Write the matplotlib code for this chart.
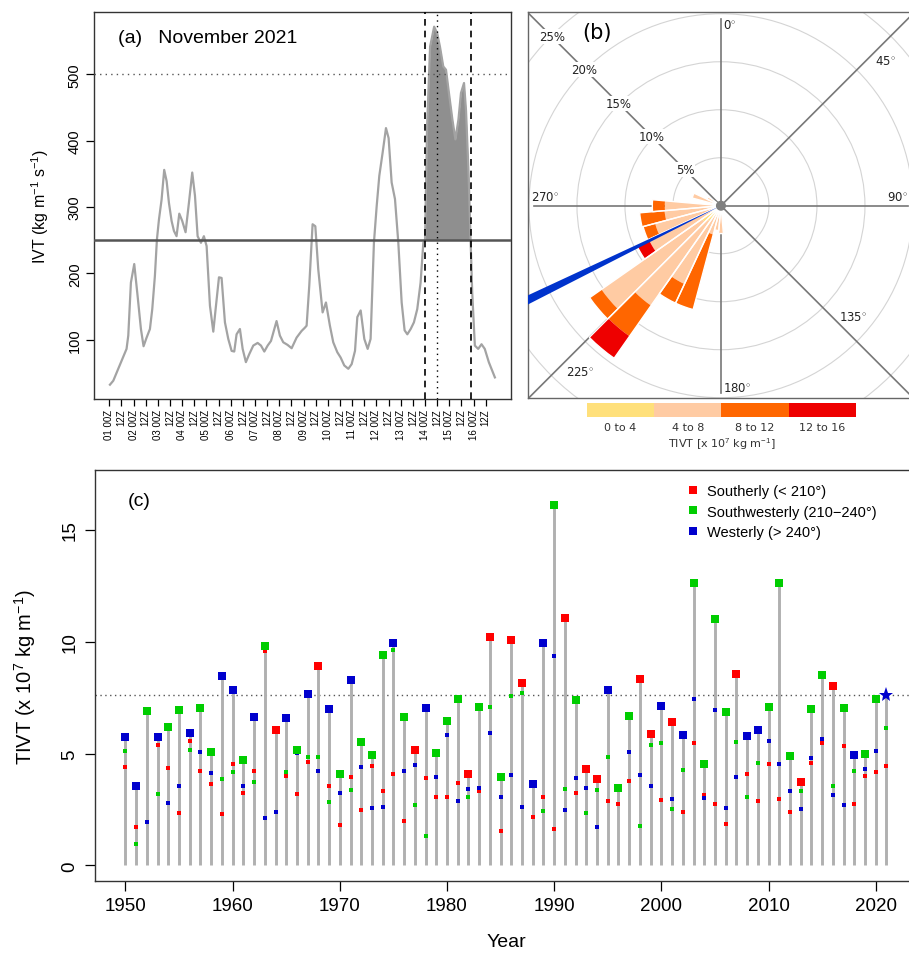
import numpy as np
import matplotlib
matplotlib.use("Agg")
import matplotlib.pyplot as plt
from matplotlib.patches import Wedge, Circle
from matplotlib.lines import Line2D

plt.rcParams['font.family'] = ['Liberation Sans', 'DejaVu Sans']
plt.rcParams['mathtext.fontset'] = 'custom'
plt.rcParams['mathtext.rm'] = 'Liberation Sans'
plt.rcParams['mathtext.it'] = 'Liberation Sans:italic'
plt.rcParams['mathtext.bf'] = 'Liberation Sans:bold'

# ---------------- (a) IVT, November 2021 (hours after 01 00Z)
ivt_hours = [0.7, 4, 8.9, 17.1, 18.8, 21.4, 24.7, 28, 31.3, 33.9, 36.9, 40.2, 42.5,
             45.1, 47.1, 49.1, 51.7, 54.3, 56.7, 59, 61.6, 63.9, 66.5, 69.2, 72.1,
             75.4, 78.7, 82, 84.7, 87.3, 90.6, 93.5, 96.2, 99.5, 102.8, 105.1, 108.4,
             111, 114.3, 117.6, 120.9, 123.5, 125.8, 129.1, 131.8, 135, 138.3, 142.3,
             146.6, 149.9, 153.2, 156.5, 159.8, 165.3, 168.6, 171.9, 176.2, 180.2,
             185.1, 190, 193.3, 195, 197.6, 200.9, 203.6, 206.5, 210.8, 214.1, 218,
             221.3, 225.3, 228.6, 232.2, 236.2, 239.5, 242.8, 245.1, 248.4, 252,
             255.3, 258.2, 261.5, 264.2, 266.8, 270.1, 273.4, 276, 279, 282.3, 285.6,
             288.9, 291.8, 294.5, 297.8, 301, 304.3, 307.6, 310.3, 312, 314, 317, 321,
             324, 326.7, 330, 332.7, 335.6, 339, 342, 345, 347.5, 350.5, 352.5, 355,
             357, 358.6, 361.2, 364.5, 367.8, 371, 375, 381]
ivt_vals = [32, 38, 56, 86, 106, 186, 214, 166, 116, 90, 103, 116, 146,
            196, 251, 281, 311, 356, 339, 306, 279, 264, 256, 290, 279,
            262, 306, 352, 317, 256, 246, 256, 241, 151, 112, 146, 194,
            193, 126, 101, 83, 82, 108, 116, 86, 66, 78, 91,
            95, 91, 82, 91, 98, 128, 106, 96, 92, 87,
            103, 113, 118, 121, 181, 274, 271, 206, 141, 156, 121,
            96, 81, 73, 61, 56, 63, 83, 134, 144, 101,
            86, 101, 246, 301, 347, 382, 419, 404, 337, 312, 246,
            156, 114, 108, 116, 126, 146, 186, 246, 250, 420, 542, 572,
            562, 542, 512, 507, 472, 432, 402, 432, 472, 487, 445, 350,
            250, 171, 91, 86, 93, 86, 66, 43]
ar_start, ar_peak, ar_end = 312, 324, 357
ivt_threshold = 250
ivt_extreme = 500

tick_hours = list(range(0, 373, 12))
tick_labels = ["%02d 00Z" % (h // 24 + 1) if h % 24 == 0 else "12Z" for h in tick_hours]

# ---------------- (b) TIVT rose (frequency %, by direction bin)
rose_dirs = [180, 190, 200, 210, 220, 230, 240, 250, 260, 270, 290, 300]
freq_0_4 = [0.3, 0.4, 0.5, 1.0, 2.0, 2.4, 1.0, 0.6, 0.4, 0.3, 0.3, 0.2]
freq_4_8 = [2.6, 2.2, 2.6, 8.0, 10.7, 12.8, 7.3, 6.5, 5.5, 5.55, 2.8, 1.4]
freq_8_12 = [0, 0, 8.1, 2.2, 3.9, 1.5, 0, 1.3, 2.6, 1.3, 0, 0]
freq_12_16 = [0, 0, 0, 0, 2.8, 0, 1.4, 0, 0, 0, 0, 0]
class_labels = ["0 to 4", "4 to 8", "8 to 12", "12 to 16"]
class_colors = ["#ffe07b", "#ffcba3", "#ff6600", "#ee0000"]
event_dir = 244

# ---------------- (c) annual max TIVT by direction class
years = list(range(1950, 2022))
south = [4.39, 1.71, np.nan, 5.40, 4.36, 2.34, 5.57, 4.21, 3.66, 2.32,
         4.54, 3.26, 4.23, 9.57, 6.03, 4.00, 3.21, 4.61, 8.90, 3.54,
         1.82, 3.96, 2.50, 4.43, 3.33, 4.08, 1.99, 5.15, 3.91, 3.08,
         3.05, 3.68, 4.08, 3.33, 10.19, 1.53, 10.07, 8.17, 2.17, 3.05,
         1.64, 11.06, 3.26, 4.29, 3.88, 2.89, 2.74, 3.76, 8.32, 5.86,
         2.92, 6.41, 2.41, 5.49, 3.17, 2.74, 1.85, 8.56, 4.08, 2.89,
         4.52, 2.95, 2.38, 3.72, 4.58, 5.49, 8.02, 5.33, 2.74, 4.00,
         4.18, 4.46]
southwest = [5.13, 0.97, 6.92, 3.18, 6.19, 6.93, 5.18, 7.02, 5.06, 3.88,
             4.17, 4.69, 3.72, 9.82, 6.01, 4.17, 5.18, 4.84, 4.84, 2.83,
             4.08, 3.35, 5.52, 4.93, 9.40, 9.63, 6.65, 2.72, 1.32, 5.03,
             6.47, 7.43, 3.04, 7.10, 7.10, 3.97, 7.57, 7.72, np.nan, 2.44,
             16.12, 3.42, 7.37, 2.34, 3.35, 4.84, 3.45, 6.68, 1.76, 5.40,
             5.46, 2.51, 4.26, 12.60, 4.55, 11.01, 6.86, 5.51, 3.08, 4.60,
             7.08, 12.60, 4.88, 3.33, 6.99, 8.53, 3.54, 7.04, 4.21, 5.00,
             7.43, 6.12]
west = [5.73, 3.53, 1.92, 5.73, 2.81, 3.56, 5.92, 5.09, 4.11, 8.45,
        7.86, 3.54, 6.64, 2.11, 2.41, 6.58, 5.01, 7.65, 4.21, 6.99,
        3.24, 8.30, 4.42, 2.56, 2.59, 9.96, 4.23, 4.49, 7.04, 3.97,
        5.85, 2.90, 3.42, 3.44, 5.91, 3.08, 4.03, 2.63, 3.66, 9.96,
        9.38, 2.49, 3.93, 3.48, 1.74, 7.86, 3.42, 5.06, 4.06, 3.57,
        7.11, 2.99, 5.85, 7.43, 3.02, 6.95, 2.57, 3.97, 5.79, 6.04,
        5.55, 4.52, 3.32, 2.51, 4.79, 5.63, 3.13, 2.68, 4.93, 4.29,
        5.12, 7.63]
sector_names = ["Southerly (< 210°)", "Southwesterly (210\u2212240°)", "Westerly (> 240°)"]
sector_colors = ["#ff0000", "#00cd00", "#0000cd"]

fig = plt.figure(figsize=(9.09, 9.54), dpi=100)

# ======== panel (a)
axa = fig.add_axes([0.1037, 0.5807, 0.4581, 0.4053])
h = np.array(ivt_hours)
v = np.array(ivt_vals)
axa.plot(h, v, color="#a3a3a3", lw=1.6, zorder=2)
inside = (h >= ar_start) & (h <= ar_end)
axa.fill_between(h[inside], v[inside], ivt_threshold, color="#8f8f8f", lw=0, zorder=1)
axa.axhline(ivt_threshold, color="#555555", lw=1.8, zorder=3)
axa.axhline(ivt_extreme, color="#555555", lw=1, ls=(0, (1, 3)), zorder=3)
axa.axvline(ar_start, color="black", lw=1.2, ls=(0, (4, 3)), zorder=4)
axa.axvline(ar_end, color="black", lw=1.2, ls=(0, (4, 3)), zorder=4)
axa.axvline(ar_peak, color="black", lw=1, ls=(0, (1, 3)), zorder=4)
axa.set_xlim(-14.8, 396.6)
axa.set_ylim(10.4, 593.6)
axa.set_yticks([100, 200, 300, 400, 500])
axa.set_xticks(tick_hours)
axa.set_xticklabels(tick_labels, rotation=90, fontsize=7)
axa.tick_params(axis='x', direction='out', length=5, pad=2, width=0.9)
axa.tick_params(axis='y', direction='out', length=6, pad=3, width=0.9, labelsize=10.5)
for lbl in axa.get_yticklabels():
    lbl.set_rotation(90)
    lbl.set_va('center')
for s in axa.spines.values():
    s.set_color("#333333")
    s.set_linewidth(1)
axa.text(0.058, 0.935, "(a)   November 2021", transform=axa.transAxes, fontsize=14,
         ha='left', va='center')
fig.text(40 / 909, 0.783, "IVT (kg m$^{-1}$ s$^{-1}$)", rotation=90, fontsize=11.5,
         ha='center', va='center')

# ======== panel (b)
axb = fig.add_axes([528 / 909, 1 - 399 / 954, 384 / 909, 385.7 / 954])
axb.set_xlim(-20.1, 19.9)
axb.set_ylim(-20.03, 20.15)
axb.set_xticks([])
axb.set_yticks([])
for s in axb.spines.values():
    s.set_color("#666666")
    s.set_linewidth(1)

for r in [5, 10, 15, 20, 25]:
    axb.add_patch(Circle((0, 0), r, fill=False, ec="#d4d4d4", lw=0.8, zorder=1))
for d in range(0, 360, 45):
    length = 19.5 if d % 90 == 0 else 40
    a = np.deg2rad(d)
    axb.plot([0, length * np.sin(a)], [0, length * np.cos(a)], color="#777777",
             lw=1.2, zorder=2)

for i, d in enumerate(rose_dirs):
    parts = [freq_0_4[i], freq_4_8[i], freq_8_12[i], freq_12_16[i]]
    edges = np.cumsum([0] + parts)
    t1, t2 = 90 - d - 5, 90 - d + 5
    for k in range(4):
        if parts[k] > 0:
            axb.add_patch(Wedge((0, 0), edges[k + 1], t1, t2, width=parts[k],
                                facecolor=class_colors[k], edgecolor='none', zorder=3))
    axb.add_patch(Wedge((0, 0), edges[-1], t1, t2, fill=False, edgecolor='white',
                        lw=1, zorder=4))

axb.add_patch(Wedge((0, 0), 40, 90 - event_dir - 1.1, 90 - event_dir + 1.1,
                    facecolor="#0033cc", edgecolor='none', zorder=5))
axb.add_patch(Circle((0, 0), 0.45, color="#808080", zorder=6))

for r, lab in [(5.3, "5%"), (10.2, "10%"), (15.1, "15%"), (20.1, "20%"), (24.9, "25%")]:
    axb.text(-r * 0.7071, r * 0.7071, lab, fontsize=8.5, family='DejaVu Sans',
             ha='center', va='center', color="#222222", zorder=3,
             bbox=dict(facecolor='white', edgecolor='none', pad=0.6))
deg_labels = [("0", 0.94, 18.9), ("45", 17.1, 15.1), ("90", 18.4, 1.0),
              ("135", 13.75, -11.5), ("180", 1.7, -18.9), ("225", -14.7, -17.3),
              ("270", -18.3, 1.0)]
for lab, x, y in deg_labels:
    axb.text(x, y, lab + r"$^{\circ}$", fontsize=8.5, family='DejaVu Sans',
             ha='center', va='center', color="#222222", zorder=3)
axb.text(-12.9, 18.06, "(b)", fontsize=15, family='DejaVu Sans', ha='center',
         va='center', zorder=3)

# colour key
axk = fig.add_axes([586.7 / 909, 1 - 417.7 / 954, 269.3 / 909, 13.4 / 954])
axk.bar(range(4), [1, 1, 1, 1], width=1, color=class_colors)
axk.set_xlim(-0.5, 3.5)
axk.set_ylim(0, 1)
axk.set_yticks([])
axk.set_xticks(range(4))
axk.set_xticklabels(class_labels, fontsize=8, family='DejaVu Sans', color="#333333")
axk.tick_params(axis='x', length=0, pad=4)
axk.set_xlabel("TIVT [x 10$^7$ kg m$^{-1}$]", fontsize=8, family='DejaVu Sans',
               color="#333333", labelpad=2)
for s in axk.spines.values():
    s.set_visible(False)

# ======== panel (c)
axc = fig.add_axes([95 / 909, 1 - 881.7 / 954, 821.9 / 909, 411 / 954])
sectors = np.vstack([south, southwest, west])
yrs = np.array(years)
tops = np.nanmax(sectors, axis=0)
top_idx = np.nanargmax(sectors, axis=0)
axc.vlines(yrs, 0, tops, color="#b0b0b0", lw=2.1, zorder=1)
axc.axhline(tops[-1], color="#555555", lw=1, ls=(0, (1, 2.5)), zorder=0)
for k in range(3):
    axc.plot(yrs, sectors[k], 's', color=sector_colors[k], ms=2.8, mew=0, zorder=3)
    big = (top_idx == k) & (yrs != years[-1])
    axc.plot(yrs[big], sectors[k][big], 's', color=sector_colors[k], ms=6, mew=0,
             zorder=4)
axc.plot([years[-1]], [tops[-1]], '*', color=sector_colors[top_idx[-1]], ms=11,
         mew=0, zorder=5)
axc.set_xlim(1947.16, 2023.84)
axc.set_ylim(-0.68, 17.68)
axc.set_xticks(range(1950, 2021, 10))
axc.set_yticks([0, 5, 10, 15])
axc.tick_params(direction='out', length=7, width=0.9, labelsize=13.5, pad=5)
for lbl in axc.get_yticklabels():
    lbl.set_rotation(90)
    lbl.set_va('center')
for s in axc.spines.values():
    s.set_color("#333333")
    s.set_linewidth(1)
axc.text(0.0395, 0.925, "(c)", transform=axc.transAxes, fontsize=14, ha='left',
         va='center')
handles = [Line2D([], [], ls='none', marker='s', ms=6, mew=0, color=c)
           for c in sector_colors]
axc.legend(handles, sector_names, loc='upper left',
           bbox_to_anchor=(687 / 909, 1 - 485 / 954),
           bbox_transform=fig.transFigure, frameon=False, fontsize=10.5,
           handlelength=0.8, handletextpad=0.6, labelspacing=0.45, borderpad=0,
           borderaxespad=0)
fig.text(25 / 909, 1 - 676.7 / 954, "TIVT (x 10$^7$ kg m$^{-1}$)", rotation=90,
         fontsize=14.5, ha='center', va='center')
fig.text(506 / 909, 1 - 943 / 954, "Year", fontsize=14, ha='center', va='center')

fig.savefig("out.png", dpi=100)
